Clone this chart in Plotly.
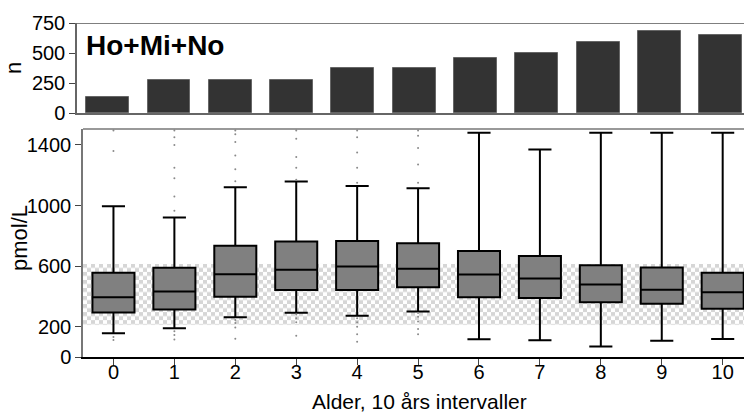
import base64
import plotly.graph_objects as go

# ---- data ----
categories = [0, 1, 2, 3, 4, 5, 6, 7, 8, 9, 10]
tick_labels = ["0", "1", "2", "3", "4", "5", "6", "7", "8", "9", "10"]
counts = [132, 272, 276, 278, 378, 374, 462, 498, 592, 684, 648]

q1 = [294, 314, 398, 442, 442, 461, 395, 389, 362, 351, 318]
median = [395, 433, 547, 576, 598, 582, 545, 518, 479, 444, 428]
q3 = [556, 589, 734, 763, 765, 751, 699, 666, 606, 591, 556]
lower_whisker = [156, 189, 262, 292, 272, 301, 117, 110, 70, 108, 119]
upper_whisker = [995, 921, 1121, 1158, 1129, 1114, 1480, 1369, 1480, 1480, 1480]

outliers = [
    [1495, 1360, 132, 112],
    [1495, 1450, 1400, 1250, 1180, 1060, 965, 170, 145, 115],
    [1495, 1470, 1420, 1330, 1240, 1160, 245, 225, 195, 120],
    [1495, 1440, 1320, 1250, 1170, 280, 255, 230, 140],
    [1495, 1450, 1350, 1250, 1150, 255, 230, 200, 150, 100],
    [1495, 1460, 1380, 1270, 1150, 290, 265, 235, 185, 150],
    [], [], [], [], [],
]

ref_low, ref_high = 210, 615

FONT = "Liberation Sans, Arial, sans-serif"

fig = go.Figure()

# top panel: counts
fig.add_trace(go.Bar(
    x=categories, y=counts, width=0.70,
    marker=dict(color="#333333", line=dict(color="#666666", width=1)),
    xaxis="x", yaxis="y", showlegend=False, hoverinfo="skip",
))

# bottom panel: outliers
ox, oy = [], []
for c, vals in zip(categories, outliers):
    for v in vals:
        ox.append(c)
        oy.append(v)
fig.add_trace(go.Scatter(
    x=ox, y=oy, mode="markers",
    marker=dict(size=2, color="#8a8a8a"),
    xaxis="x2", yaxis="y2", showlegend=False, hoverinfo="skip", cliponaxis=True,
))

# boxes
fig.add_trace(go.Box(
    x=categories, q1=q1, median=median, q3=q3,
    lowerfence=lower_whisker, upperfence=upper_whisker,
    width=0.69, whiskerwidth=0.55, boxpoints=False,
    fillcolor="#808080", line=dict(color="#000000", width=2),
    xaxis="x2", yaxis="y2", showlegend=False,
))

# checker pattern reference band as an SVG image
W, H = 661, 61
svg = (
    f'<svg xmlns="http://www.w3.org/2000/svg" width="{W}" height="{H}" '
    f'viewBox="0 0 {W} {H}" preserveAspectRatio="none">'
    '<defs><pattern id="p" width="8" height="8" patternUnits="userSpaceOnUse">'
    '<rect width="8" height="8" fill="#ffffff"/>'
    '<rect width="4" height="4" fill="#d6d6d6"/>'
    '<rect x="4" y="4" width="4" height="4" fill="#d6d6d6"/>'
    '</pattern></defs>'
    f'<rect width="{W}" height="{H}" fill="url(#p)"/></svg>'
)
src = "data:image/svg+xml;base64," + base64.b64encode(svg.encode()).decode()

x2_range = [-0.5, 10.35]
fig.add_layout_image(dict(
    source=src, xref="x2", yref="y2",
    x=x2_range[0], y=ref_high, sizex=x2_range[1] - x2_range[0], sizey=ref_high - ref_low,
    xanchor="left", yanchor="top", sizing="stretch", layer="below",
))

tickfont = dict(family=FONT, size=20, color="#000000")

fig.update_layout(
    width=744, height=414,
    margin=dict(l=0, r=0, t=0, b=0),
    paper_bgcolor="white", plot_bgcolor="white",
    font=dict(family=FONT, color="#000000"),
    bargap=0,
    xaxis=dict(
        domain=[77 / 744, 1], range=[-0.5, 10.38], showticklabels=False, ticks="",
        showgrid=False, zeroline=False, showline=True, linecolor="#666666", linewidth=1.5,
        anchor="y", fixedrange=True,
    ),
    yaxis=dict(
        domain=[(414 - 113) / 414, (414 - 23) / 414], range=[0, 750],
        tickvals=[0, 250, 500, 750], ticks="outside", ticklen=6, tickcolor="#444444",
        tickfont=tickfont, showgrid=False, zeroline=False, showline=True,
        linecolor="#666666", linewidth=1.5, anchor="x", automargin=False,
    ),
    xaxis2=dict(
        domain=[83 / 744, 1], range=x2_range, tickvals=categories, ticktext=tick_labels,
        ticks="outside", ticklen=6, tickcolor="#444444", tickfont=tickfont,
        ticklabelstandoff=-10,
        showgrid=False, zeroline=False, showline=True, linecolor="#000000", linewidth=1.5,
        anchor="y2", automargin=False,
    ),
    yaxis2=dict(
        domain=[(414 - 357) / 414, (414 - 129) / 414], range=[0, 1505],
        tickvals=[0, 200, 600, 1000, 1400], ticks="outside", ticklen=6, tickcolor="#444444",
        tickfont=tickfont, showgrid=False, zeroline=False, showline=True,
        linecolor="#777777", linewidth=1.5, anchor="x2", automargin=False,
    ),
    shapes=[
        dict(type="line", xref="x domain", yref="y", x0=0, x1=1, y0=750, y1=750,
             line=dict(color="#555555", width=1.5)),
        dict(type="line", xref="x2 domain", yref="y2 domain", x0=0, x1=1, y0=1, y1=1,
             line=dict(color="#777777", width=1.5)),
    ],
    annotations=[
        dict(text="<b>Ho+Mi+No</b>", xref="paper", yref="paper", x=84 / 744, y=(414 - 45) / 414,
             xanchor="left", yanchor="middle", showarrow=False,
             font=dict(family=FONT, size=28, color="#000000")),
        dict(text="n", xref="paper", yref="paper", x=14 / 744, y=(414 - 68) / 414,
             xanchor="center", yanchor="middle", showarrow=False, textangle=-90,
             font=dict(family=FONT, size=22, color="#000000")),
        dict(text="pmol/L", xref="paper", yref="paper", x=19 / 744, y=(414 - 238) / 414,
             xanchor="center", yanchor="middle", showarrow=False, textangle=-90,
             font=dict(family=FONT, size=22, color="#000000")),
        dict(text="Alder, 10 års intervaller", xref="paper", yref="paper",
             x=419 / 744, y=(414 - 401) / 414, xanchor="center", yanchor="middle",
             showarrow=False, font=dict(family=FONT, size=21, color="#000000")),
    ],
)

fig.write_html("out.html")
